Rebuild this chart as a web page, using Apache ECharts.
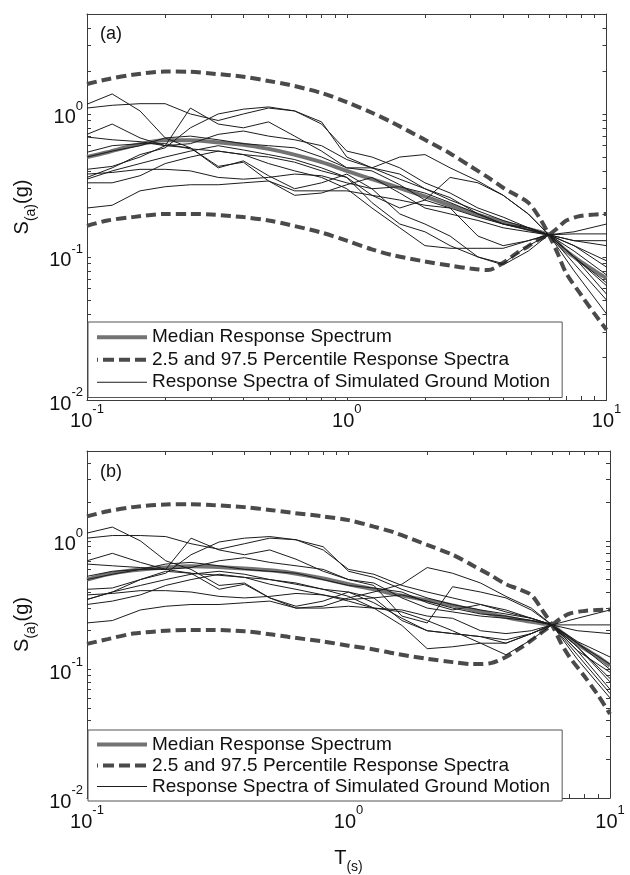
<!DOCTYPE html>
<html>
<head>
<meta charset="utf-8">
<script src="https://cdn.jsdelivr.net/npm/echarts@6/dist/echarts.min.js"></script>
<style>
html, body { margin: 0; padding: 0; background: #fff; }
#main { width: 630px; height: 875px; }
</style>
</head>
<body>
<div id="main"></div>
<script>
// periods (s) of the simulated spectra
let periods = [0.1, 0.125, 0.16, 0.2, 0.25, 0.32, 0.4, 0.5, 0.63, 0.8, 1.0, 1.25, 1.6, 2.0, 2.5, 3.2, 4.0, 5.0, 6.0, 7.5, 10];
// periods of the median / percentile curves
let periodsStat = [0.1, 0.12, 0.15, 0.2, 0.25, 0.3, 0.4, 0.5, 0.6, 0.8, 1, 1.25, 1.5, 2, 2.5, 3, 3.5, 4, 4.5, 5, 5.5, 6, 6.5, 7, 8, 9, 10];

// panel (a)
let medianA = [0.50, 0.54, 0.60, 0.655, 0.655, 0.64, 0.61, 0.57, 0.53, 0.46, 0.40, 0.35, 0.315, 0.265, 0.23, 0.205, 0.188, 0.175, 0.165, 0.157, 0.15, 0.143, 0.125, 0.11, 0.092, 0.08, 0.071];
let upperA = [1.62, 1.75, 1.88, 1.98, 1.97, 1.92, 1.82, 1.70, 1.60, 1.40, 1.21, 1.02, 0.87, 0.66, 0.53, 0.43, 0.36, 0.305, 0.27, 0.24, 0.19, 0.143, 0.105, 0.077, 0.054, 0.04, 0.031];
let lowerA = [0.165, 0.18, 0.19, 0.20, 0.20, 0.198, 0.19, 0.18, 0.168, 0.148, 0.13, 0.113, 0.103, 0.093, 0.087, 0.083, 0.081, 0.091, 0.106, 0.119, 0.133, 0.143, 0.16, 0.18, 0.194, 0.198, 0.2];
let simA = [
  [1.17, 1.38, 1.05, 0.68, 0.58, 0.43, 0.46, 0.34, 0.27, 0.28, 0.32, 0.36, 0.28, 0.22, 0.2, 0.18, 0.16, 0.15, 0.143, 0.1, 0.063],
  [1.1, 1.15, 1.18, 1.18, 1.0, 0.9, 1.0, 1.1, 1.05, 0.85, 0.55, 0.5, 0.42, 0.33, 0.28, 0.22, 0.19, 0.16, 0.143, 0.12, 0.094],
  [0.72, 0.85, 0.68, 0.6, 1.1, 0.85, 0.8, 0.88, 0.7, 0.55, 0.42, 0.4, 0.32, 0.25, 0.22, 0.19, 0.17, 0.155, 0.143, 0.11, 0.075],
  [0.36, 0.42, 0.52, 0.58, 0.8, 1.0, 1.08, 1.12, 1.05, 0.88, 0.5, 0.42, 0.35, 0.3, 0.26, 0.2, 0.17, 0.155, 0.143, 0.13, 0.12],
  [0.69, 0.66, 0.64, 0.6, 0.62, 0.72, 0.76, 0.7, 0.66, 0.6, 0.48, 0.42, 0.38, 0.3, 0.25, 0.21, 0.18, 0.16, 0.143, 0.09, 0.05],
  [0.41, 0.43, 0.5, 0.6, 0.58, 0.42, 0.47, 0.37, 0.3, 0.33, 0.38, 0.3, 0.2, 0.17, 0.14, 0.1, 0.09, 0.12, 0.143, 0.12, 0.085],
  [0.38, 0.39, 0.41, 0.41, 0.4, 0.36, 0.35, 0.36, 0.38, 0.37, 0.33, 0.3, 0.31, 0.28, 0.24, 0.2, 0.17, 0.16, 0.143, 0.13, 0.13],
  [0.22, 0.23, 0.29, 0.31, 0.32, 0.32, 0.33, 0.34, 0.29, 0.29, 0.29, 0.27, 0.25, 0.23, 0.22, 0.14, 0.12, 0.13, 0.143, 0.15, 0.17],
  [0.5, 0.55, 0.6, 0.68, 0.7, 0.66, 0.62, 0.6, 0.58, 0.5, 0.42, 0.42, 0.5, 0.52, 0.42, 0.34, 0.27, 0.2, 0.143, 0.08, 0.04],
  [0.54, 0.6, 0.62, 0.62, 0.57, 0.55, 0.52, 0.5, 0.46, 0.4, 0.36, 0.27, 0.22, 0.25, 0.36, 0.33, 0.27, 0.2, 0.143, 0.1, 0.066],
  [0.35, 0.4, 0.45, 0.5, 0.55, 0.6, 0.56, 0.52, 0.48, 0.42, 0.36, 0.24, 0.17, 0.15, 0.12, 0.1, 0.088, 0.11, 0.143, 0.1, 0.055],
  [0.33, 0.33, 0.37, 0.45, 0.5, 0.55, 0.52, 0.45, 0.4, 0.36, 0.3, 0.22, 0.16, 0.12, 0.115, 0.115, 0.115, 0.13, 0.143, 0.145, 0.145]
];

// panel (b)
let medianB = [0.50, 0.55, 0.59, 0.62, 0.635, 0.63, 0.61, 0.59, 0.565, 0.51, 0.46, 0.42, 0.385, 0.345, 0.315, 0.29, 0.27, 0.255, 0.243, 0.235, 0.228, 0.222, 0.195, 0.175, 0.145, 0.125, 0.107];
let upperB = [1.55, 1.7, 1.83, 1.92, 1.93, 1.9, 1.83, 1.74, 1.66, 1.55, 1.45, 1.29, 1.16, 0.93, 0.78, 0.64, 0.54, 0.46, 0.42, 0.38, 0.29, 0.222, 0.16, 0.125, 0.088, 0.063, 0.045];
let lowerB = [0.158, 0.172, 0.19, 0.2, 0.203, 0.203, 0.198, 0.188, 0.178, 0.165, 0.153, 0.143, 0.133, 0.121, 0.114, 0.110, 0.112, 0.125, 0.145, 0.168, 0.195, 0.222, 0.25, 0.272, 0.285, 0.29, 0.292];
let simB = [
  [1.15, 1.28, 1.0, 0.7, 0.6, 0.45, 0.47, 0.36, 0.3, 0.31, 0.36, 0.4, 0.46, 0.62, 0.56, 0.47, 0.37, 0.3, 0.222, 0.15, 0.085],
  [1.05, 1.1, 1.1, 1.08, 0.95, 0.86, 0.95, 1.05, 1.02, 0.85, 0.6, 0.55, 0.45, 0.4, 0.36, 0.32, 0.29, 0.25, 0.222, 0.16, 0.1],
  [0.7, 0.8, 0.68, 0.6, 1.05, 0.85, 0.78, 0.85, 0.72, 0.58, 0.5, 0.45, 0.26, 0.23, 0.44, 0.4, 0.36, 0.29, 0.222, 0.12, 0.06],
  [0.35, 0.4, 0.5, 0.56, 0.78, 0.98, 1.05, 1.08, 1.02, 0.9, 0.58, 0.52, 0.42, 0.36, 0.32, 0.29, 0.27, 0.25, 0.222, 0.25, 0.29],
  [0.66, 0.64, 0.62, 0.6, 0.62, 0.7, 0.74, 0.68, 0.64, 0.6, 0.5, 0.47, 0.36, 0.3, 0.28, 0.26, 0.25, 0.24, 0.222, 0.14, 0.07],
  [0.42, 0.43, 0.5, 0.58, 0.56, 0.42, 0.46, 0.36, 0.31, 0.34, 0.4, 0.36, 0.24, 0.2, 0.19, 0.18, 0.16, 0.19, 0.222, 0.2, 0.19],
  [0.38, 0.39, 0.41, 0.41, 0.4, 0.37, 0.36, 0.37, 0.39, 0.38, 0.35, 0.36, 0.38, 0.34, 0.3, 0.27, 0.26, 0.24, 0.222, 0.222, 0.222],
  [0.23, 0.24, 0.29, 0.31, 0.32, 0.32, 0.33, 0.34, 0.3, 0.3, 0.31, 0.3, 0.29, 0.26, 0.25, 0.2, 0.19, 0.2, 0.222, 0.16, 0.11],
  [0.5, 0.55, 0.6, 0.66, 0.68, 0.64, 0.6, 0.58, 0.56, 0.5, 0.45, 0.43, 0.4, 0.33, 0.29, 0.32, 0.28, 0.25, 0.222, 0.13, 0.065],
  [0.53, 0.58, 0.6, 0.6, 0.56, 0.54, 0.52, 0.5, 0.47, 0.42, 0.4, 0.33, 0.25, 0.2, 0.19, 0.18, 0.17, 0.19, 0.222, 0.165, 0.125],
  [0.35, 0.4, 0.45, 0.5, 0.55, 0.58, 0.55, 0.5, 0.46, 0.42, 0.37, 0.3, 0.22, 0.145, 0.15, 0.16, 0.16, 0.19, 0.222, 0.14, 0.095],
  [0.32, 0.34, 0.38, 0.45, 0.5, 0.55, 0.52, 0.46, 0.42, 0.38, 0.34, 0.3, 0.28, 0.24, 0.2, 0.16, 0.13, 0.17, 0.222, 0.15, 0.08]
];

let xLabelExp = [-1, 0, 1];
let yLabelExp = [-2, -1, 0];

const NAME_MED = 'Median Response Spectrum';
const NAME_PCT = '2.5 and 97.5 Percentile Response Spectra';
const NAME_SIM = 'Response Spectra of Simulated Ground Motion';
const FONT = 'Liberation Sans, Arial, sans-serif';
const AX = '#3a3a3a';
const C_MED = '#737373', C_PCT = '#4a4a4a', C_SIM = '#1c1c1c';

// tick exponents: 1..9 per decade
function tickExp(fromExp, toVal) {
  let out = [];
  for (let e = fromExp; Math.pow(10, e) <= toVal; e++) {
    for (let k = 1; k <= 9; k++) {
      let v = k * Math.pow(10, e);
      if (v <= toVal * 1.0001) out.push(Math.log10(v));
    }
  }
  return out;
}
let xTicks = tickExp(-1, 10);
let yTicks = tickExp(-2, 5);

function pairs(xs, ys) {
  return xs.map((x, i) => [x, ys[i]]);
}

let supRich = {
  b: { fontSize: 20, lineHeight: 28, verticalAlign: 'bottom', fontFamily: FONT, color: '#111' },
  sup: { fontSize: 13, lineHeight: 14, verticalAlign: 'top', fontFamily: FONT, color: '#111' }
};
function supFmt(v) {
  return '{b|10}{sup|' + Math.round(v) + '}';
}
let nameRich = {
  n: { fontSize: 20, lineHeight: 26, verticalAlign: 'top', fontFamily: FONT, color: '#111' },
  sub: { fontSize: 14, lineHeight: 16, verticalAlign: 'bottom', fontFamily: FONT, color: '#111' }
};

function panelSeries(k, median, upper, lower, sims) {
  let out = [];
  out.push({
    name: NAME_MED, type: 'line', xAxisIndex: 3 * k, yAxisIndex: 3 * k,
    data: pairs(periodsStat, median), symbol: 'none', smooth: 0.3,
    itemStyle: { color: C_MED },
    lineStyle: { color: C_MED, width: 4 }, z: 2
  });
  [upper, lower].forEach(function (arr) {
    out.push({
      name: NAME_PCT, type: 'line', xAxisIndex: 3 * k, yAxisIndex: 3 * k,
      data: pairs(periodsStat, arr), symbol: 'none', smooth: 0.3,
      itemStyle: { color: C_PCT },
      lineStyle: { color: C_PCT, width: 4, type: [10, 5] }, z: 3
    });
  });
  sims.forEach(function (arr) {
    out.push({
      name: NAME_SIM, type: 'line', xAxisIndex: 3 * k, yAxisIndex: 3 * k,
      data: pairs(periods, arr), symbol: 'none',
      itemStyle: { color: C_SIM },
      lineStyle: { color: C_SIM, width: 1 }, z: 4
    });
  });
  return out;
}

function xAxes(g, withName) {
  let tick = { show: true, inside: true, length: 4, customValues: xTicks, lineStyle: { color: AX } };
  let line = { show: true, onZero: false, lineStyle: { color: AX, width: 1 } };
  let bottom = {
    type: 'value', gridIndex: g, position: 'bottom', min: -1, max: 1, interval: 1,
    axisLine: line, axisTick: tick, splitLine: { show: false },
    axisLabel: { customValues: xLabelExp, formatter: supFmt, rich: supRich, margin: g === 0 ? 3 : 6 }
  };
  if (withName) {
    bottom.name = '{n|T}{sub|(s)}';
    bottom.nameLocation = 'middle';
    bottom.nameGap = 50;
    bottom.nameTextStyle = { rich: nameRich };
  }
  return [
    { type: 'log', gridIndex: g, min: 0.1, max: 10, logBase: 10, show: false },
    bottom,
    {
      type: 'value', gridIndex: g, position: 'top', min: -1, max: 1, interval: 1,
      axisLine: line, axisTick: tick, splitLine: { show: false }, axisLabel: { show: false }
    }
  ];
}

function yAxes(g) {
  let tick = { show: true, inside: true, length: 4, customValues: yTicks, lineStyle: { color: AX } };
  let line = { show: true, onZero: false, lineStyle: { color: AX, width: 1 } };
  return [
    { type: 'log', gridIndex: g, min: 0.01, max: 5, logBase: 10, show: false },
    {
      type: 'value', gridIndex: g, position: 'left', min: -2, max: Math.log10(5), interval: 1,
      axisLine: line, axisTick: tick, splitLine: { show: false },
      axisLabel: { customValues: yLabelExp, formatter: supFmt, rich: supRich, margin: 4 },
      name: '{n|S}{sub|(a)}{n|(g)}', nameLocation: 'middle', nameRotate: 90, nameGap: 39,
      nameTextStyle: { rich: nameRich }
    },
    {
      type: 'value', gridIndex: g, position: 'right', min: -2, max: Math.log10(5), interval: 1,
      axisLine: line, axisTick: tick, splitLine: { show: false }, axisLabel: { show: false }
    }
  ];
}

function legendAt(top, rowH) {
  return {
    data: [
      { name: NAME_MED, lineStyle: { color: C_MED, width: 4, type: 'solid' } },
      { name: NAME_PCT, lineStyle: { color: C_PCT, width: 4, type: [11, 5], dashOffset: 10 } },
      { name: NAME_SIM, lineStyle: { color: C_SIM, width: 1, type: 'solid' } }
    ],
    orient: 'vertical', left: 88, top: top,
    itemWidth: 50, itemHeight: 14, itemGap: 0,
    padding: [4, 12, 4, 7],
    borderColor: '#555', borderWidth: 1, backgroundColor: '#fff',
    selectedMode: false,
    itemStyle: { opacity: 0 },
    textStyle: { fontFamily: FONT, fontSize: 19, color: '#111', lineHeight: rowH }
  };
}

let myChart = echarts.init(document.getElementById('main'));
myChart.setOption({
  animation: false,
  backgroundColor: '#fff',
  title: [
    { text: '(a)', left: 100, top: 25, padding: 0, textStyle: { fontFamily: FONT, fontSize: 18, fontWeight: 'normal', color: '#111' } },
    { text: '(b)', left: 100, top: 463, padding: 0, textStyle: { fontFamily: FONT, fontSize: 18, fontWeight: 'normal', color: '#111' } }
  ],
  grid: [
    { left: 87, top: 14, width: 519.5, height: 386 },
    { left: 87, top: 451, width: 523, height: 354 }
  ],
  legend: [legendAt(322, 22.5), legendAt(730, 21)],
  xAxis: xAxes(0, false).concat(xAxes(1, true)),
  yAxis: yAxes(0).concat(yAxes(1)),
  series: panelSeries(0, medianA, upperA, lowerA, simA).concat(panelSeries(1, medianB, upperB, lowerB, simB))
});
</script>
</body>
</html>
